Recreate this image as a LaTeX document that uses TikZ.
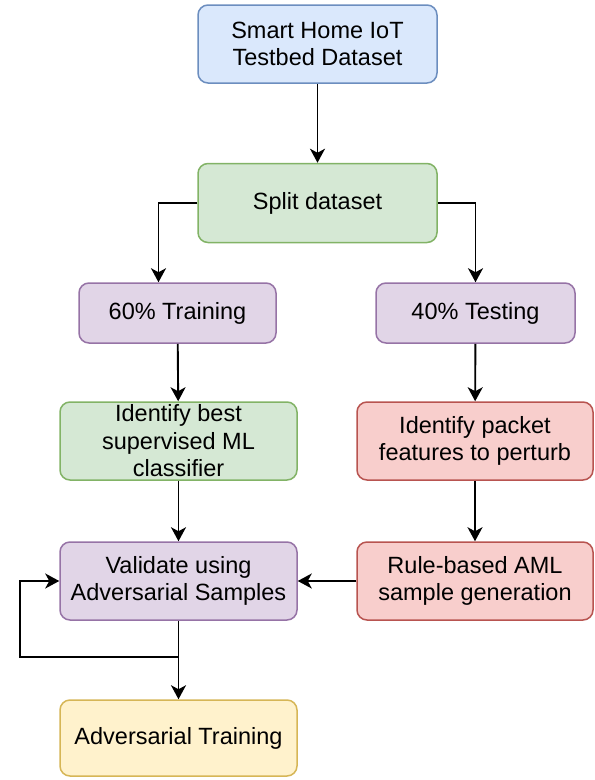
\documentclass[tikz,border=0pt]{standalone}
\usepackage{fontspec}
\setmainfont{Liberation Sans}
\usetikzlibrary{arrows.meta}
\definecolor{bluef}{HTML}{DAE8FC}\definecolor{blued}{HTML}{6C8EBF}
\definecolor{greenf}{HTML}{D5E8D4}\definecolor{greend}{HTML}{82B366}
\definecolor{purf}{HTML}{E1D5E7}\definecolor{purd}{HTML}{9673A6}
\definecolor{redf}{HTML}{F8CECC}\definecolor{redd}{HTML}{B85450}
\definecolor{yelf}{HTML}{FFF2CC}\definecolor{yeld}{HTML}{D6B656}
\tikzset{
  box/.style={rectangle, rounded corners=10pt, line width=1.5pt, align=center,
    inner sep=0pt, font=\fontsize{23.5}{27.5}\selectfont},
  bluebox/.style={box, fill=bluef, draw=blued},
  greenbox/.style={box, fill=greenf, draw=greend},
  purbox/.style={box, fill=purf, draw=purd},
  redbox/.style={box, fill=redf, draw=redd},
  yelbox/.style={box, fill=yelf, draw=yeld},
  arr/.style={line width=1.9pt, -{Stealth[length=14pt,width=15pt,inset=4pt]}}
}
\begin{document}
\begin{tikzpicture}[x=1pt,y=-1pt]
\useasboundingbox (0,0) rectangle (595,780);
\node[bluebox, minimum width=239pt, minimum height=78pt] (top) at (317.5,44) {Smart Home IoT\\Testbed Dataset};
\node[greenbox, minimum width=239pt, minimum height=79pt] (split) at (317.5,203) {Split dataset};
\node[purbox, minimum width=197pt, minimum height=60pt] (train) at (177.5,313) {60\% Training};
\node[purbox, minimum width=199pt, minimum height=60pt] (test) at (475.5,313) {40\% Testing};
\node[greenbox, minimum width=237pt, minimum height=78pt] (best) at (178.5,441) {Identify best\\supervised ML\\classifier};
\node[redbox, minimum width=236pt, minimum height=78pt] (pert) at (475,441) {Identify packet\\features to perturb};
\node[purbox, minimum width=237pt, minimum height=78pt] (valid) at (178.5,581) {Validate using\\Adversarial Samples};
\node[redbox, minimum width=236pt, minimum height=78pt] (rule) at (475,581) {Rule-based AML\\sample generation};
\node[yelbox, minimum width=237pt, minimum height=76pt] (adv) at (178.5,738) {Adversarial Training};
\coordinate (j) at (178.5,657);
\coordinate (lp) at (20,657);
\draw[arr] (top) -- (split);
\draw[arr] (split.west) -| ([xshift=-19pt]train.north);
\draw[arr] (split.east) -| (test.north);
\draw[arr] (train) -- (best);
\draw[arr] (test) -- (pert);
\draw[arr] (best) -- (valid);
\draw[arr] (pert) -- (rule);
\draw[arr] (rule) -- (valid);
\draw[arr] (valid) -- (adv);
\draw[arr] (j) -- (lp) |- (valid.west);
\end{tikzpicture}
\end{document}
